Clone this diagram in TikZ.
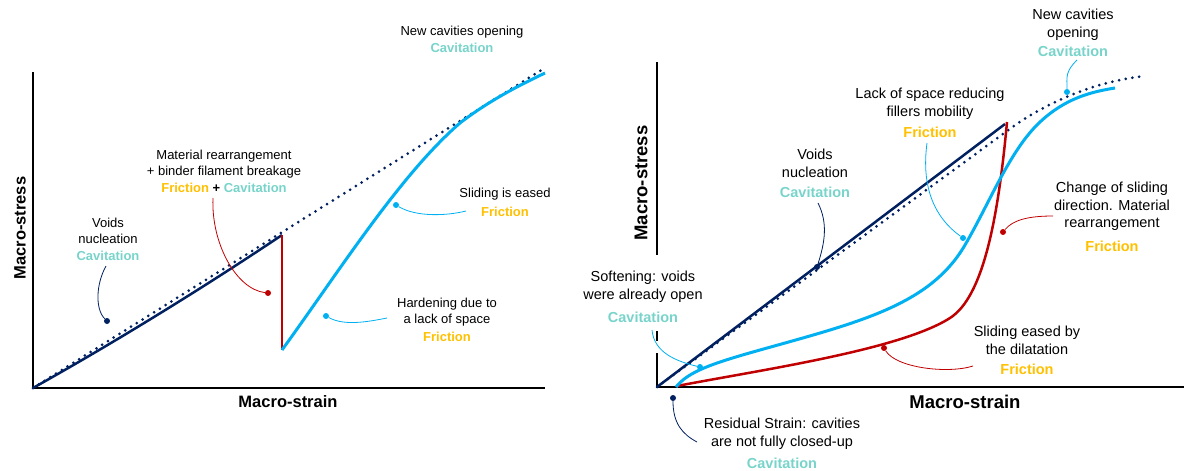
\documentclass[tikz,border=0pt]{standalone}
\usepackage{fontspec}
\setmainfont{Liberation Sans}
\definecolor{navy}{RGB}{0,32,96}
\definecolor{skyb}{RGB}{0,176,240}
\definecolor{darkred}{RGB}{192,0,0}
\definecolor{cavcol}{RGB}{120,212,202}
\definecolor{friccol}{RGB}{255,192,0}
\newcommand{\cavit}{{\bfseries\color{cavcol}Cavitation}}
\newcommand{\frict}{{\bfseries\color{friccol}Friction}}

\begin{document}
\begin{tikzpicture}[x=1pt,y=-1pt,
  lbl/.style={align=center,inner sep=0,anchor=north,font=\fontsize{13}{15.5}\selectfont},
  lblR/.style={lbl,font=\fontsize{14.5}{17.5}\selectfont},
  axlbl/.style={inner sep=0,font=\bfseries\fontsize{16.5}{18}\selectfont},
  axlblR/.style={inner sep=0,font=\bfseries\fontsize{18.5}{20}\selectfont},
  axis/.style={line width=1.4pt},
  dotline/.style={navy,line width=3pt,line cap=round,dash pattern=on 0pt off 6.8pt},
  pin/.style={circle,fill=#1,inner sep=0,minimum size=6pt},
  lead/.style={#1,line width=0.8pt}]
\useasboundingbox (0,0) rectangle (1184,471);

% ---- left chart
\draw[axis] (33,72) -- (33,388) -- (545,388);
\node[axlbl,rotate=90] (ystrL) at (20,228) {Macro-stress};
\node[axlbl] (xstrL) at (288,402) {Macro-strain};

\draw[dotline] (33,388) -- (543,69);
\draw[navy,line width=2.5pt] (33,388) .. controls (110,345) and (200,290) .. (282,235);
\draw[darkred,line width=2.5pt] (282,235) -- (282,350);
\draw[skyb,line width=3pt] (282,350) .. controls (340,270) and (400,175) .. (460,123)
  .. controls (490,100) and (520,85) .. (545,73);

\node[lbl] (newL) at (462,26) {New cavities opening\\[1.5pt]\cavit};
\node[lbl] (matL) at (224,150) {Material rearrangement\\+ binder filament breakage\\[1.5pt]\frict\ \textbf{+} \cavit};
\node[lbl] (voidsL) at (108,218) {Voids\\nucleation\\[1.5pt]\cavit};
\node[lbl] (slideL) at (505,188) {Sliding is eased\\[3.5pt]\frict};
\node[lbl] (hardL) at (447,298) {Hardening due to\\a lack of space\\[2.5pt]\frict};

\node[pin=navy] (dVL) at (107,321) {};
\node[pin=darkred] (dML) at (268,293) {};
\node[pin=skyb] (dSL) at (396,205) {};
\node[pin=skyb] (dHL) at (326,316) {};
\coordinate (cVL) at (106,266);
\coordinate (cML) at (213,198);
\coordinate (cSL) at (466,211);
\coordinate (cHL) at (387,318);

\draw[lead=navy] (cVL) .. controls +(-10,18) and +(-12,-12) .. (dVL);
\draw[lead=darkred] (cML) .. controls +(-2,45) and +(-32,-4) .. (dML);
\draw[lead=skyb] (dSL) .. controls +(20,12) and +(-20,5) .. (cSL);
\draw[lead=skyb] (dHL) .. controls +(18,10) and +(-20,4) .. (cHL);

% ---- right chart
\draw[axis] (657,62) -- (657,255);
\draw[axis] (657,331) -- (657,341);
\draw[axis] (657,353) -- (657,387) -- (1184,387);
\node[axlblR,rotate=90] (ystrR) at (641,183) {Macro-stress};
\node[axlblR] (xstrR) at (965,402) {Macro-strain};

\draw[dotline] (657,387) -- (1007,131) .. controls (1040,106) and (1090,82) .. (1145,76);
\draw[navy,line width=2.5pt] (657,387) -- (1005,124);
\draw[darkred,line width=2.5pt] (677,386) .. controls (760,370) and (900,350) .. (950,318)
  .. controls (983,297) and (998,220) .. (1007,122);
\draw[skyb,line width=3pt] (676,387) .. controls (688,372) and (710,364) .. (760,350)
  .. controls (860,322) and (930,305) .. (965,245)
  .. controls (990,202.1) and (1010,150) .. (1040,122)
  .. controls (1065,98.7) and (1090,92) .. (1115,88);

\node[lblR] (newR) at (1073,9) {New cavities\\opening\\[2pt]\cavit};
\node[lblR] (lackR) at (930,88) {Lack of space reducing\\fillers mobility\\[4pt]\frict};
\node[lblR] (voidsR) at (815,149) {Voids\\nucleation\\[2.5pt]\cavit};
\node[lblR] (changeR) at (1112,182) {Change of sliding\\direction. Material\\rearrangement\\[6pt]\frict};
\node[lblR] (softR) at (643,271) {Softening: voids\\were already open\\[6pt]\cavit};
\node[lblR] (slideR) at (1027,326) {Sliding eased by\\the dilatation\\[2.5pt]\frict};
\node[lblR] (resR) at (782,418) {Residual Strain: cavities\\are not fully closed-up\\[5pt]\cavit};

\node[pin=skyb] (dNR) at (1067,92) {};
\node[pin=skyb] (dLR) at (963,238) {};
\node[pin=navy] (dVR) at (817,267) {};
\node[pin=darkred] (dCR) at (1003,232) {};
\node[pin=skyb] (dSR) at (700,367) {};
\node[pin=darkred] (dSlR) at (884,348) {};
\node[pin=navy] (dRR) at (673,398) {};
\coordinate (cNR) at (1077,60);
\coordinate (cLR) at (927,143);
\coordinate (cVR) at (818,203);
\coordinate (cCR) at (1053,216);
\coordinate (cSR) at (652,330);
\coordinate (cSlR) at (973,366);
\coordinate (cRR) at (697,442);

\draw[lead=skyb] (cNR) .. controls +(-12,12) and +(0,-15) .. (dNR);
\draw[lead=skyb] (cLR) .. controls +(-6,45) and +(-28,-20) .. (dLR);
\draw[lead=navy] (cVR) .. controls +(10,20) and +(8,-25) .. (dVR);
\draw[lead=darkred] (cCR) .. controls +(-25,0) and +(10,-12) .. (dCR);
\draw[lead=skyb] (cSR) .. controls +(2,22) and +(-25,-6) .. (dSR);
\draw[lead=darkred] (dSlR) .. controls +(12,20) and +(-25,8) .. (cSlR);
\draw[lead=navy] (dRR) .. controls +(0,25) and +(-15,-8) .. (cRR);
\end{tikzpicture}
\end{document}
